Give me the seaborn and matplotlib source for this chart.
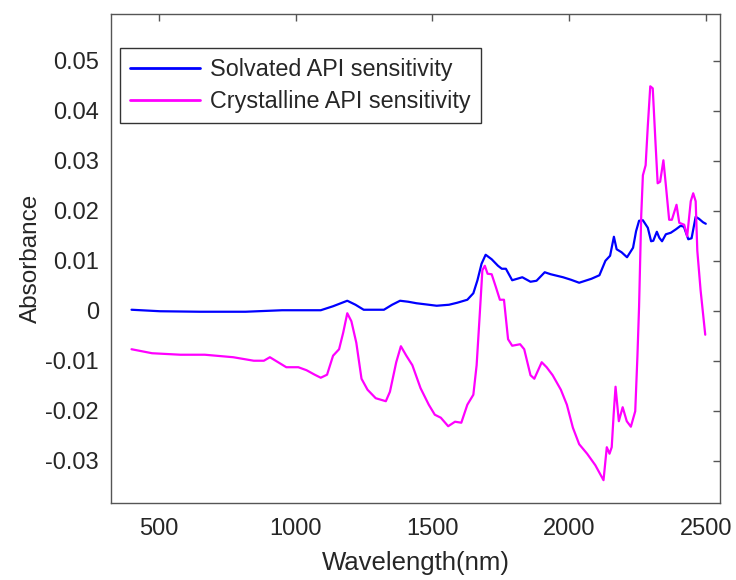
import matplotlib
matplotlib.use("Agg")
import matplotlib.pyplot as plt
import seaborn as sns
import pandas as pd

solv_wl = [400, 504, 650, 817, 951, 1092, 1137, 1189, 1219, 1249, 1323, 1353, 1382, 1412,
           1442, 1472, 1516, 1561, 1591, 1628, 1650, 1665, 1680, 1695, 1717, 1740, 1754,
           1769, 1792, 1829, 1859, 1881, 1911, 1933, 1978, 2007, 2037, 2082, 2111, 2133,
           2150, 2164, 2174, 2192, 2212, 2234, 2245, 2256, 2270, 2288, 2300, 2308, 2321,
           2330, 2340, 2354, 2372, 2391, 2408, 2420, 2436, 2448, 2463, 2475, 2490, 2500]
solv_abs = [0.0002, -0.0001, -0.0002, -0.0002, 0.0001, 0.0001, 0.0009, 0.0020, 0.0012,
            0.0002, 0.0002, 0.0012, 0.0020, 0.0018, 0.0015, 0.0013, 0.0010, 0.0012, 0.0016,
            0.0022, 0.0035, 0.0061, 0.0094, 0.0112, 0.0103, 0.0090, 0.0084, 0.0084, 0.0061,
            0.0067, 0.0058, 0.0060, 0.0077, 0.0073, 0.0067, 0.0062, 0.0056, 0.0064, 0.0071,
            0.0100, 0.0110, 0.0148, 0.0123, 0.0117, 0.0107, 0.0126, 0.0159, 0.0180, 0.0181,
            0.0166, 0.0139, 0.0140, 0.0158, 0.0146, 0.0139, 0.0153, 0.0156, 0.0163, 0.0170,
            0.0168, 0.0143, 0.0145, 0.0188, 0.0184, 0.0177, 0.0174]

cryst_wl = [400, 475, 579, 668, 772, 847, 884, 906, 936, 966, 1010, 1040, 1070, 1092, 1115,
            1137, 1159, 1174, 1189, 1204, 1222, 1241, 1263, 1293, 1330, 1345, 1368, 1385,
            1405, 1427, 1457, 1487, 1509, 1531, 1558, 1583, 1606, 1628, 1650, 1662, 1673,
            1683, 1692, 1702, 1717, 1732, 1747, 1762, 1777, 1792, 1821, 1836, 1859, 1873,
            1900, 1918, 1940, 1970, 1992, 2014, 2037, 2066, 2096, 2126, 2138, 2148, 2156,
            2163, 2170, 2182, 2196, 2211, 2226, 2242, 2250, 2256, 2264, 2270, 2280, 2288,
            2297, 2306, 2316, 2324, 2333, 2345, 2354, 2366, 2376, 2393, 2403, 2421, 2432,
            2445, 2454, 2463, 2469, 2481, 2498]
cryst_abs = [-0.0077, -0.0085, -0.0088, -0.0088, -0.0093, -0.0100, -0.0100, -0.0093, -0.0103,
             -0.0113, -0.0113, -0.0119, -0.0128, -0.0134, -0.0128, -0.0090, -0.0077, -0.0044,
             -0.0005, -0.0021, -0.0064, -0.0136, -0.0158, -0.0175, -0.0181, -0.0162, -0.0103,
             -0.0071, -0.0090, -0.0109, -0.0155, -0.0188, -0.0208, -0.0214, -0.0231, -0.0222,
             -0.0224, -0.0188, -0.0168, -0.0109, -0.0011, 0.0081, 0.0090, 0.0074, 0.0073,
             0.0048, 0.0022, 0.0022, -0.0057, -0.0070, -0.0067, -0.0077, -0.0129, -0.0136,
             -0.0103, -0.0113, -0.0129, -0.0158, -0.0188, -0.0234, -0.0267, -0.0286, -0.0309,
             -0.0339, -0.0273, -0.0286, -0.0273, -0.0208, -0.0152, -0.0221, -0.0193, -0.0221,
             -0.0232, -0.0201, -0.0091, 0.0008, 0.0192, 0.0271, 0.0291, 0.0370, 0.0449, 0.0445,
             0.0337, 0.0255, 0.0258, 0.0301, 0.0251, 0.0182, 0.0182, 0.0212, 0.0176, 0.0172,
             0.0149, 0.0219, 0.0235, 0.0219, 0.0120, 0.0041, -0.0048]

series_names = ["Solvated API sensitivity", "Crystalline API sensitivity"]
colors = ["#0000ff", "#ff00ff"]
x_ticks = [500, 1000, 1500, 2000, 2500]
y_ticks = [-0.03, -0.02, -0.01, 0, 0.01, 0.02, 0.03, 0.04, 0.05]
y_tick_labels = ["-0.03", "-0.02", "-0.01", "0", "0.01", "0.02", "0.03", "0.04", "0.05"]

df = pd.concat([
    pd.DataFrame({"Wavelength": solv_wl, "Absorbance": solv_abs, "Series": series_names[0]}),
    pd.DataFrame({"Wavelength": cryst_wl, "Absorbance": cryst_abs, "Series": series_names[1]}),
], ignore_index=True)

sns.set_style("white")
plt.rcParams["font.family"] = ["Liberation Sans", "DejaVu Sans"]
text_col = "#262626"
spine_col = "#555555"

fig = plt.figure(figsize=(7.36, 5.80), dpi=100)
ax = fig.add_axes([0.1512, 0.1333, 0.8267, 0.8420])

sns.lineplot(data=df, x="Wavelength", y="Absorbance", hue="Series",
             palette=dict(zip(series_names, colors)), sort=False, estimator=None,
             linewidth=1.6, ax=ax)

ax.set_xlim(326, 2551)
ax.set_ylim(-0.0384, 0.0593)
ax.set_xticks(x_ticks)
ax.set_xticklabels([str(t) for t in x_ticks])
ax.set_yticks(y_ticks)
ax.set_yticklabels(y_tick_labels)

ax.tick_params(axis="both", direction="in", length=5, width=1, color=spine_col,
               labelsize=17, labelcolor=text_col, top=True, right=True)
ax.tick_params(axis="x", pad=11)
ax.tick_params(axis="y", pad=9)
for s in ax.spines.values():
    s.set_color(spine_col)
    s.set_linewidth(1.0)
    s.set_visible(True)

ax.set_xlabel("Wavelength(nm)", fontsize=18.5, color=text_col, labelpad=8)
ax.set_ylabel("Absorbance", fontsize=17.5, color=text_col, labelpad=2)

leg = ax.legend(loc="upper left", bbox_to_anchor=(0.0143, 0.932), borderaxespad=0,
                fontsize=16.8, frameon=True, fancybox=False, framealpha=1,
                edgecolor="#333333", handlelength=3.0, handletextpad=0.4,
                borderpad=0.45, labelspacing=0.38)
leg.get_frame().set_linewidth(1.0)
for t in leg.get_texts():
    t.set_color(text_col)
for l in leg.get_lines():
    l.set_linewidth(2.0)

fig.savefig("out.png", dpi=100)
